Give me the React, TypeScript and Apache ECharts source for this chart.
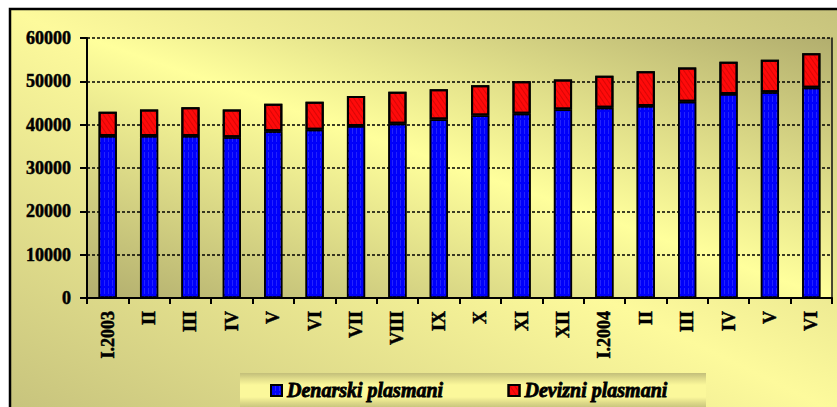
import React, { useEffect, useRef } from "react";
import * as echarts from "echarts";

const categories = ["I.2003", "II", "III", "IV", "V", "VI", "VII", "VIII", "IX", "X", "XI", "XII", "I.2004", "II", "III", "IV", "V", "VI"];
const denarski = [37400, 37400, 37400, 37100, 38500, 38800, 39700, 40200, 41200, 42100, 42500, 43500, 43900, 44300, 45300, 47100, 47500, 48500];
const devizni = [5600, 6100, 6600, 6400, 6300, 6500, 6900, 7400, 7000, 7000, 7500, 6900, 7400, 8000, 7900, 7400, 7500, 8000];
const yTicks = { min: 0, max: 60000, interval: 10000 };
const seriesNames = ["Denarski plasmani", "Devizni plasmani"];

const FONT = "'Liberation Serif', 'Times New Roman', serif";

export default function App() {
  const ref = useRef<HTMLDivElement>(null);
  useEffect(() => {
    if (!ref.current) return;
    const chart = echarts.init(ref.current, undefined, { renderer: "svg" });
    const diag = (c1: string, c2: string) =>
      new echarts.graphic.LinearGradient(0, 1, 1, 0, [
        { offset: 0, color: c1 },
        { offset: 0.5, color: c2 },
        { offset: 1, color: c1 },
      ]);
    chart.setOption({
      animation: false,
      backgroundColor: "#ffffff",
      graphic: [
        {
          type: "rect",
          z: -100,
          silent: true,
          shape: { x: 10, y: 9, width: 840, height: 410 },
          style: { fill: diag("#C6C27C", "#FDFA9C"), stroke: "#000", lineWidth: 2.5 },
        },
        {
          type: "rect",
          z: 50,
          silent: true,
          shape: { x: 240, y: 373, width: 466, height: 40 },
          style: {
            fill: new echarts.graphic.LinearGradient(0, 0, 0, 1, [
              { offset: 0, color: "#C2BE7A" },
              { offset: 0.15, color: "#E2DE8C" },
              { offset: 0.3, color: "#FBF89B" },
              { offset: 0.6, color: "#FBF89B" },
              { offset: 0.75, color: "#DCD888" },
              { offset: 0.9, color: "#C2BE7A" },
              { offset: 1, color: "#C2BE7A" },
            ]),
          },
        },
      ],
      legend: {
        z: 60,
        left: 270,
        top: 380,
        padding: 0,
        itemWidth: 11,
        itemHeight: 11,
        itemGap: 64,
        icon: "rect",
        data: seriesNames,
        textStyle: {
          fontFamily: FONT,
          fontSize: 20,
          fontWeight: 900,
          fontStyle: "italic",
          color: "#000",
          textBorderColor: "#000",
          textBorderWidth: 0.8,
        },
      },
      grid: {
        left: 87,
        right: 5,
        top: 38,
        bottom: 109,
        show: true,
        borderWidth: 0,
        backgroundColor: diag("#B2AE6E", "#FFFF9C"),
      },
      xAxis: {
        type: "category",
        data: categories,
        axisLine: { lineStyle: { color: "#000", width: 2 } },
        axisTick: { show: true, length: 6, interval: 0, lineStyle: { color: "#000", width: 2 } },
        axisLabel: {
          interval: 0,
          rotate: 90,
          margin: 13,
          fontFamily: FONT,
          fontSize: 18,
          fontWeight: "bold",
          color: "#000",
          textBorderColor: "#000",
          textBorderWidth: 0.5,
        },
      },
      yAxis: [
        {
          type: "value",
          min: yTicks.min,
          max: yTicks.max,
          interval: yTicks.interval,
          axisLine: { show: true, lineStyle: { color: "#000", width: 2 } },
          axisTick: { show: true, length: 7, lineStyle: { color: "#000", width: 2 } },
          axisLabel: {
            margin: 16,
            fontFamily: FONT,
            fontSize: 18,
            fontWeight: "bold",
            color: "#000",
            textBorderColor: "#000",
            textBorderWidth: 0.5,
            formatter: (v: number) => String(v),
          },
          splitLine: { show: true, lineStyle: { color: "#000", width: 1.5, type: [3, 2] } },
        },
        {
          type: "value",
          position: "right",
          min: yTicks.min,
          max: yTicks.max,
          interval: yTicks.interval,
          axisLine: { show: true, lineStyle: { color: "#111", width: 1.5 } },
          axisTick: { show: false },
          axisLabel: { show: false },
          splitLine: { show: false },
        },
      ],
      series: [
        {
          name: seriesNames[0],
          type: "bar",
          stack: "total",
          barWidth: "44%",
          data: denarski,
          itemStyle: {
            color: "#0000FA",
            borderColor: "#000",
            borderWidth: 1.5,
            decal: {
              symbol: "rect",
              symbolSize: 1,
              color: "rgba(80,80,255,0.45)",
              dashArrayX: [1, 3],
              dashArrayY: [6, 2],
              rotation: 0,
            },
          },
        },
        {
          name: seriesNames[1],
          type: "bar",
          stack: "total",
          barWidth: "44%",
          data: devizni,
          itemStyle: {
            color: "#FF0A0A",
            borderColor: "#000",
            borderWidth: 2,
            decal: {
              symbol: "rect",
              symbolSize: 1,
              color: "rgba(170,0,0,0.45)",
              dashArrayX: [1, 3],
              dashArrayY: [8, 0],
              rotation: -0.6,
            },
          },
        },
      ],
    });
    return () => chart.dispose();
  }, []);
  return <div ref={ref} style={{ position: "absolute", left: 0, top: 0, width: 837, height: 407 }} />;
}
